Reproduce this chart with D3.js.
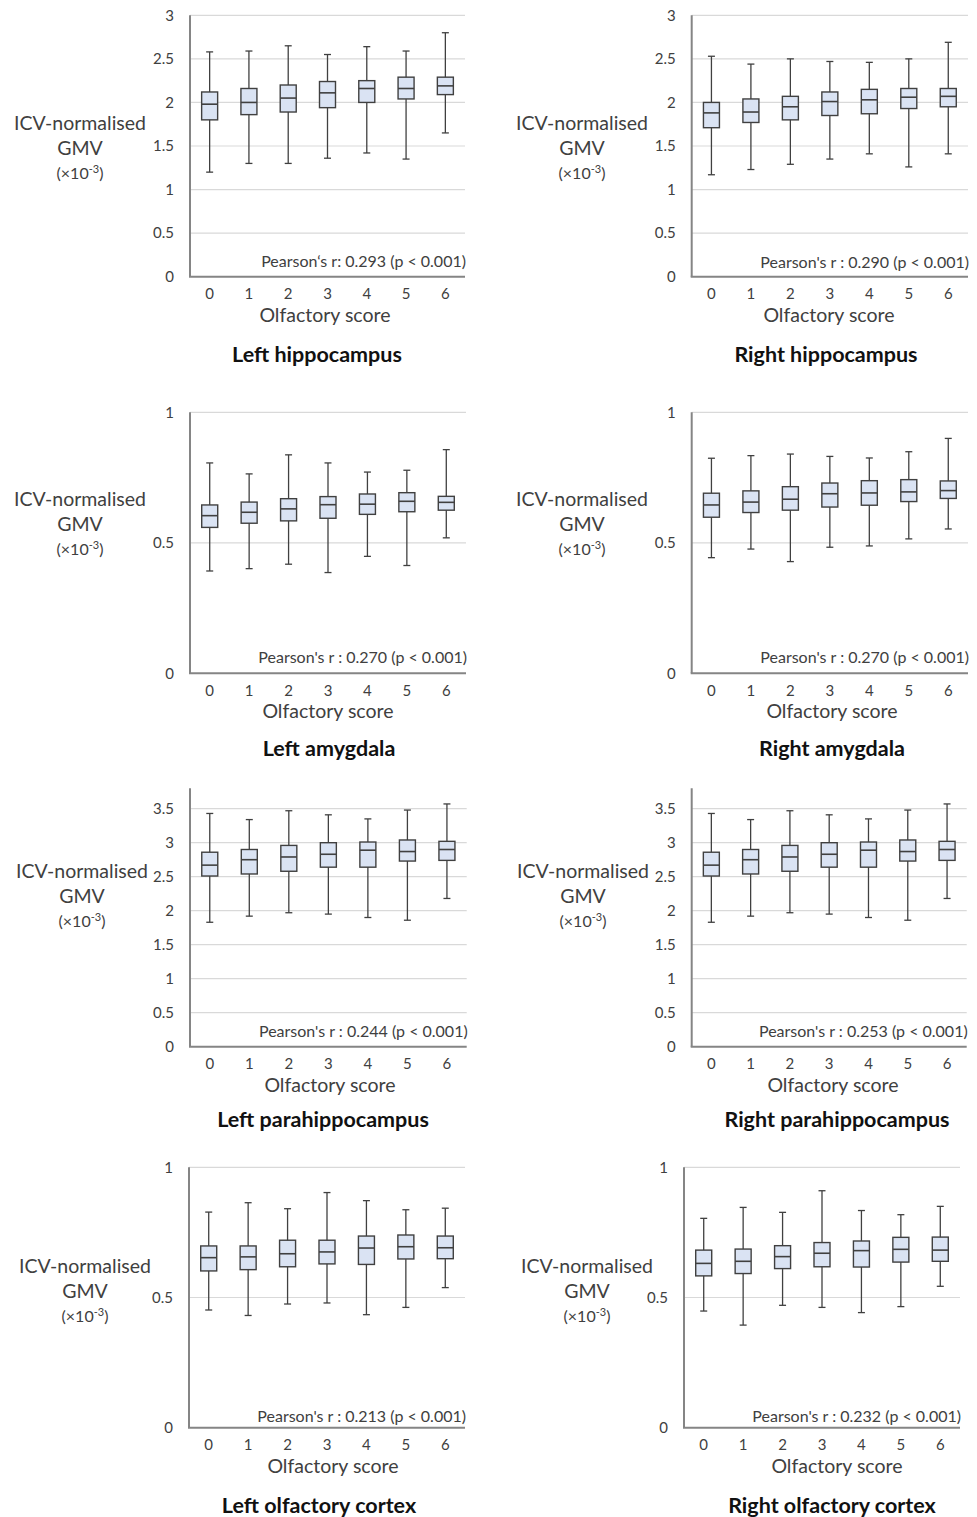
<!DOCTYPE html>
<html>
<head>
<meta charset="utf-8">
<script src="https://cdn.jsdelivr.net/npm/d3@7"></script>
<style>
  body { margin: 0; background: #fff; }
  svg { display: block; font-family: Lato, "Open Sans", sans-serif; }
</style>
</head>
<body>
<div id="chart"></div>
<script>
var svgWidth = 977;
var svgHeight = 1517;

// Olfactory score categories (x axis)
var scores = ["0", "1", "2", "3", "4", "5", "6"];

// each row: [min, Q1, median, Q3, max] per olfactory score
var leftHippocampus = [
  [1.20, 1.80, 1.98, 2.12, 2.58],
  [1.30, 1.86, 2.00, 2.16, 2.59],
  [1.30, 1.89, 2.05, 2.20, 2.65],
  [1.36, 1.94, 2.11, 2.24, 2.55],
  [1.42, 2.00, 2.16, 2.25, 2.64],
  [1.35, 2.04, 2.16, 2.29, 2.59],
  [1.65, 2.09, 2.19, 2.29, 2.80]
];
var rightHippocampus = [
  [1.17, 1.71, 1.88, 2.00, 2.53],
  [1.23, 1.77, 1.89, 2.04, 2.44],
  [1.29, 1.80, 1.95, 2.07, 2.50],
  [1.35, 1.85, 2.01, 2.12, 2.47],
  [1.41, 1.87, 2.03, 2.15, 2.46],
  [1.26, 1.93, 2.06, 2.16, 2.50],
  [1.41, 1.95, 2.07, 2.16, 2.69]
];
var leftAmygdala = [
  [0.392, 0.559, 0.604, 0.645, 0.806],
  [0.401, 0.575, 0.617, 0.656, 0.764],
  [0.418, 0.584, 0.630, 0.669, 0.837],
  [0.386, 0.594, 0.646, 0.677, 0.806],
  [0.448, 0.609, 0.648, 0.687, 0.771],
  [0.413, 0.619, 0.659, 0.692, 0.778],
  [0.519, 0.625, 0.655, 0.678, 0.857]
];
var rightAmygdala = [
  [0.443, 0.598, 0.645, 0.690, 0.824],
  [0.476, 0.616, 0.656, 0.699, 0.834],
  [0.428, 0.625, 0.667, 0.715, 0.840],
  [0.483, 0.637, 0.688, 0.729, 0.831],
  [0.488, 0.644, 0.691, 0.738, 0.825],
  [0.515, 0.658, 0.695, 0.742, 0.849],
  [0.553, 0.670, 0.700, 0.737, 0.900]
];
var leftParahippocampus = [
  [1.83, 2.51, 2.67, 2.86, 3.43],
  [1.92, 2.54, 2.75, 2.90, 3.34],
  [1.97, 2.58, 2.79, 2.96, 3.47],
  [1.95, 2.64, 2.83, 3.00, 3.41],
  [1.90, 2.64, 2.89, 3.01, 3.35],
  [1.86, 2.73, 2.87, 3.04, 3.48],
  [2.18, 2.74, 2.90, 3.02, 3.57]
];
var rightParahippocampus = [
  [1.83, 2.51, 2.67, 2.86, 3.43],
  [1.92, 2.54, 2.75, 2.90, 3.34],
  [1.97, 2.58, 2.79, 2.96, 3.47],
  [1.95, 2.64, 2.83, 3.00, 3.41],
  [1.90, 2.64, 2.89, 3.01, 3.35],
  [1.86, 2.73, 2.87, 3.04, 3.48],
  [2.18, 2.74, 2.90, 3.02, 3.57]
];
var leftOlfactoryCortex = [
  [0.452, 0.602, 0.653, 0.698, 0.828],
  [0.431, 0.607, 0.656, 0.698, 0.864],
  [0.475, 0.618, 0.668, 0.720, 0.841],
  [0.479, 0.629, 0.675, 0.720, 0.903],
  [0.434, 0.627, 0.690, 0.736, 0.872],
  [0.462, 0.648, 0.695, 0.740, 0.837],
  [0.538, 0.649, 0.691, 0.736, 0.843]
];
var rightOlfactoryCortex = [
  [0.448, 0.583, 0.631, 0.682, 0.804],
  [0.394, 0.592, 0.639, 0.686, 0.846],
  [0.470, 0.611, 0.657, 0.699, 0.827],
  [0.462, 0.618, 0.670, 0.711, 0.910],
  [0.442, 0.617, 0.680, 0.717, 0.834],
  [0.465, 0.636, 0.685, 0.731, 0.818],
  [0.543, 0.639, 0.682, 0.732, 0.850]
];

var regionData = [leftHippocampus, rightHippocampus, leftAmygdala, rightAmygdala,
  leftParahippocampus, rightParahippocampus, leftOlfactoryCortex, rightOlfactoryCortex];

var titles = ["Left hippocampus", "Right hippocampus", "Left amygdala", "Right amygdala",
  "Left parahippocampus", "Right parahippocampus", "Left olfactory  cortex", "Right olfactory  cortex"];

var pearsonLabels = [
  "Pearson\u2018s r: 0.293 (p < 0.001)",
  "Pearson's r : 0.290 (p < 0.001)",
  "Pearson's r : 0.270 (p < 0.001)",
  "Pearson's r : 0.270 (p < 0.001)",
  "Pearson's r : 0.244 (p < 0.001)",
  "Pearson's r : 0.253 (p < 0.001)",
  "Pearson's r : 0.213 (p < 0.001)",
  "Pearson's r : 0.232 (p < 0.001)"
];

// y axis maximum and last labelled tick
var yMax = [3, 3, 1, 1, 3.8, 3.8, 1, 1];
var yTickMax = [3, 3, 1, 1, 3.5, 3.5, 1, 1];

// panel placement (pixels)
var panels = [
  { x0: 190, x1: 465, yTop: 15.3, y0: 276.7, labelX: 80, labelY: 130, xLabX: 325, titleX: 317, titleY: 362, rY: 10 },
  { x0: 691.7, x1: 968, yTop: 15.3, y0: 276.7, labelX: 582, labelY: 130, xLabX: 829, titleX: 826, titleY: 362, rY: 9 },
  { x0: 190, x1: 466, yTop: 412.3, y0: 673.3, labelX: 80, labelY: 506, xLabX: 328, titleX: 329, titleY: 756, rY: 10 },
  { x0: 691.7, x1: 968, yTop: 412.3, y0: 673.3, labelX: 582, labelY: 506, xLabX: 832, titleX: 832, titleY: 756, rY: 10 },
  { x0: 190, x1: 466.7, yTop: 788.3, y0: 1046.7, labelX: 82, labelY: 878, xLabX: 330, titleX: 323, titleY: 1127, rY: 10 },
  { x0: 691.7, x1: 966.7, yTop: 788.3, y0: 1046.7, labelX: 583, labelY: 878, xLabX: 833, titleX: 837, titleY: 1127, rY: 10 },
  { x0: 189, x1: 465, yTop: 1167.3, y0: 1427.7, labelX: 85, labelY: 1273, xLabX: 333, titleX: 319, titleY: 1513, rY: 6 },
  { x0: 684, x1: 960, yTop: 1167.3, y0: 1427.7, labelX: 587, labelY: 1273, xLabX: 837, titleX: 832, titleY: 1513, rY: 6 }
];

var boxFill = "#dae3f3";
var boxStroke = "#404040";
var gridColor = "#d9d9d9";
var axisColor = "#858585";
var textColor = "#404040";

var svg = d3.select("#chart").append("svg")
  .attr("width", svgWidth)
  .attr("height", svgHeight);

panels.forEach(function(p, i) {
  var data = regionData[i];
  var g = svg.append("g");

  var x = d3.scaleBand()
    .domain(scores)
    .range([p.x0, p.x1])
    .padding(0);

  var y = d3.scaleLinear()
    .domain([0, yMax[i]])
    .range([p.y0, p.yTop]);

  var ticks = d3.range(0, yTickMax[i] + 1e-9, 0.5);

  // gridlines
  g.selectAll(".grid")
    .data(ticks.filter(function(t) { return t > 0; }))
    .enter().append("line")
    .attr("x1", p.x0).attr("x2", p.x1)
    .attr("y1", function(d) { return y(d); })
    .attr("y2", function(d) { return y(d); })
    .attr("stroke", gridColor)
    .attr("stroke-width", 1.2);

  // y tick labels
  var yAxis = g.append("g")
    .attr("transform", "translate(" + p.x0 + ",0)")
    .call(d3.axisLeft(y).tickValues(ticks).tickSize(0).tickPadding(16)
      .tickFormat(function(d) { return String(d); }));
  yAxis.select(".domain").remove();
  yAxis.selectAll("text")
    .attr("fill", textColor)
    .style("font-size", "15px")
    .style("font-family", "Lato, sans-serif");

  // x tick labels
  var xAxis = g.append("g")
    .attr("transform", "translate(0," + p.y0 + ")")
    .call(d3.axisBottom(x).tickSize(0).tickPadding(12));
  xAxis.select(".domain").remove();
  xAxis.selectAll("text")
    .attr("fill", textColor)
    .style("font-size", "15px")
    .style("font-family", "Lato, sans-serif");

  // axis lines
  g.append("line")
    .attr("x1", p.x0).attr("x2", p.x0)
    .attr("y1", y(yMax[i])).attr("y2", p.y0)
    .attr("stroke", axisColor).attr("stroke-width", 2);
  g.append("line")
    .attr("x1", p.x0 - 1).attr("x2", p.x1)
    .attr("y1", p.y0).attr("y2", p.y0)
    .attr("stroke", axisColor).attr("stroke-width", 2);

  // boxes
  var boxW = 16;
  var capW = 7;
  var boxes = g.selectAll(".box")
    .data(data)
    .enter().append("g")
    .attr("transform", function(d, j) {
      return "translate(" + (x(scores[j]) + x.bandwidth() / 2) + ",0)";
    });

  boxes.append("line")
    .attr("x1", 0).attr("x2", 0)
    .attr("y1", function(d) { return y(d[0]); })
    .attr("y2", function(d) { return y(d[4]); })
    .attr("stroke", boxStroke).attr("stroke-width", 1.3);

  boxes.append("line")
    .attr("x1", -capW / 2).attr("x2", capW / 2)
    .attr("y1", function(d) { return y(d[0]); })
    .attr("y2", function(d) { return y(d[0]); })
    .attr("stroke", boxStroke).attr("stroke-width", 1.3);

  boxes.append("line")
    .attr("x1", -capW / 2).attr("x2", capW / 2)
    .attr("y1", function(d) { return y(d[4]); })
    .attr("y2", function(d) { return y(d[4]); })
    .attr("stroke", boxStroke).attr("stroke-width", 1.3);

  boxes.append("rect")
    .attr("x", -boxW / 2)
    .attr("width", boxW)
    .attr("y", function(d) { return y(d[3]); })
    .attr("height", function(d) { return y(d[1]) - y(d[3]); })
    .attr("fill", boxFill)
    .attr("stroke", boxStroke)
    .attr("stroke-width", 1.4);

  boxes.append("line")
    .attr("x1", -boxW / 2).attr("x2", boxW / 2)
    .attr("y1", function(d) { return y(d[2]); })
    .attr("y2", function(d) { return y(d[2]); })
    .attr("stroke", boxStroke).attr("stroke-width", 1.6);

  // Pearson annotation
  g.append("text")
    .attr("x", p.x1 + 1)
    .attr("y", p.y0 - p.rY)
    .attr("text-anchor", "end")
    .attr("fill", textColor)
    .style("font-size", "16px")
    .text(pearsonLabels[i]);

  // x axis title
  g.append("text")
    .attr("x", p.xLabX)
    .attr("y", p.y0 + 45)
    .attr("text-anchor", "middle")
    .attr("fill", textColor)
    .style("font-size", "19.5px")
    .text("Olfactory score");

  // y axis title
  var yl = g.append("text")
    .attr("text-anchor", "middle")
    .attr("fill", textColor);
  yl.append("tspan")
    .attr("x", p.labelX).attr("y", p.labelY)
    .style("font-size", "19.5px")
    .text("ICV-normalised");
  yl.append("tspan")
    .attr("x", p.labelX).attr("y", p.labelY + 25)
    .style("font-size", "19.5px")
    .text("GMV");
  var unit = g.append("text")
    .attr("x", p.labelX).attr("y", p.labelY + 49)
    .attr("text-anchor", "middle")
    .attr("fill", textColor)
    .style("font-size", "16px");
  unit.append("tspan").text("(\u00d710");
  unit.append("tspan").attr("dy", -6).style("font-size", "11px").text("-3");
  unit.append("tspan").attr("dy", 6).text(")");

  // panel title
  g.append("text")
    .attr("x", p.titleX)
    .attr("y", p.titleY)
    .attr("text-anchor", "middle")
    .attr("fill", "#111")
    .style("font-size", "21.5px")
    .style("font-weight", "bold")
    .text(titles[i]);
});
</script>
</body>
</html>
